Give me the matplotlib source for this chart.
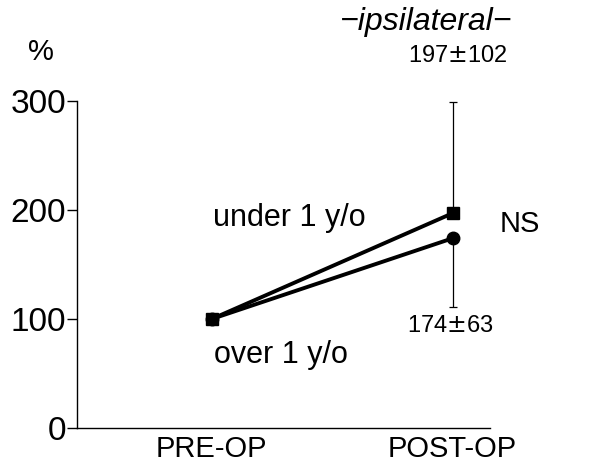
import matplotlib
matplotlib.use("Agg")
import matplotlib.pyplot as plt

plt.rcParams['font.family'] = ['Liberation Sans', 'DejaVu Sans']
plt.rcParams['mathtext.fontset'] = 'dejavusans'

categories = ["PRE-OP", "POST-OP"]
under_vals = [100, 197]
over_vals = [100, 174]
under_sd = 102
over_sd = 63
yticks = [0, 100, 200, 300]

fig = plt.figure(figsize=(6.16, 4.65), dpi=100)
ax = fig.add_axes([0.125, 0.0796, 0.67, 0.7034])
x = [0, 1]

ax.plot(x, under_vals, color='black', lw=2.8, marker='s', ms=9, zorder=3)
ax.plot(x, over_vals, color='black', lw=2.8, marker='o', ms=9, zorder=3)
ax.errorbar([1], [under_vals[1]], yerr=[[0], [under_sd]], fmt='none',
            ecolor='black', elinewidth=0.9, capsize=3, capthick=0.9)
ax.errorbar([1], [over_vals[1]], yerr=[[over_sd], [0]], fmt='none',
            ecolor='black', elinewidth=0.9, capsize=3, capthick=0.9)

ax.set_xlim(-0.56, 1.154)
ax.set_ylim(0, 300)
ax.set_yticks(yticks)
ax.set_yticklabels([str(v) for v in yticks], fontsize=24)
ax.set_xticks(x)
ax.set_xticklabels(categories, fontsize=21)
ax.tick_params(axis='x', length=0, pad=5)
ax.tick_params(axis='y', length=7, width=1, pad=1)
for s in ['top', 'right']:
    ax.spines[s].set_visible(False)
for s in ['left', 'bottom']:
    ax.spines[s].set_linewidth(1)

ax.text(0.005, 193, "under 1 y/o", fontsize=22, ha='left', va='center')
ax.text(0.01, 67, "over 1 y/o", fontsize=22, ha='left', va='center')
ax.text(1.195, 187, "NS", fontsize=21, ha='left', va='center', clip_on=False)
ax.text(0.99, 104, "174$\\pm$63", fontsize=17, ha='center', va='top')
ax.text(1.02, 341, "197$\\pm$102", fontsize=17, ha='center', va='center', clip_on=False)
ax.text(0.89, 365, "\u2212ipsilateral\u2212", fontsize=23, style='italic',
        ha='center', va='baseline', clip_on=False)
ax.text(-0.71, 345, "%", fontsize=21, ha='center', va='center', clip_on=False)

fig.savefig("out.png", dpi=100)
